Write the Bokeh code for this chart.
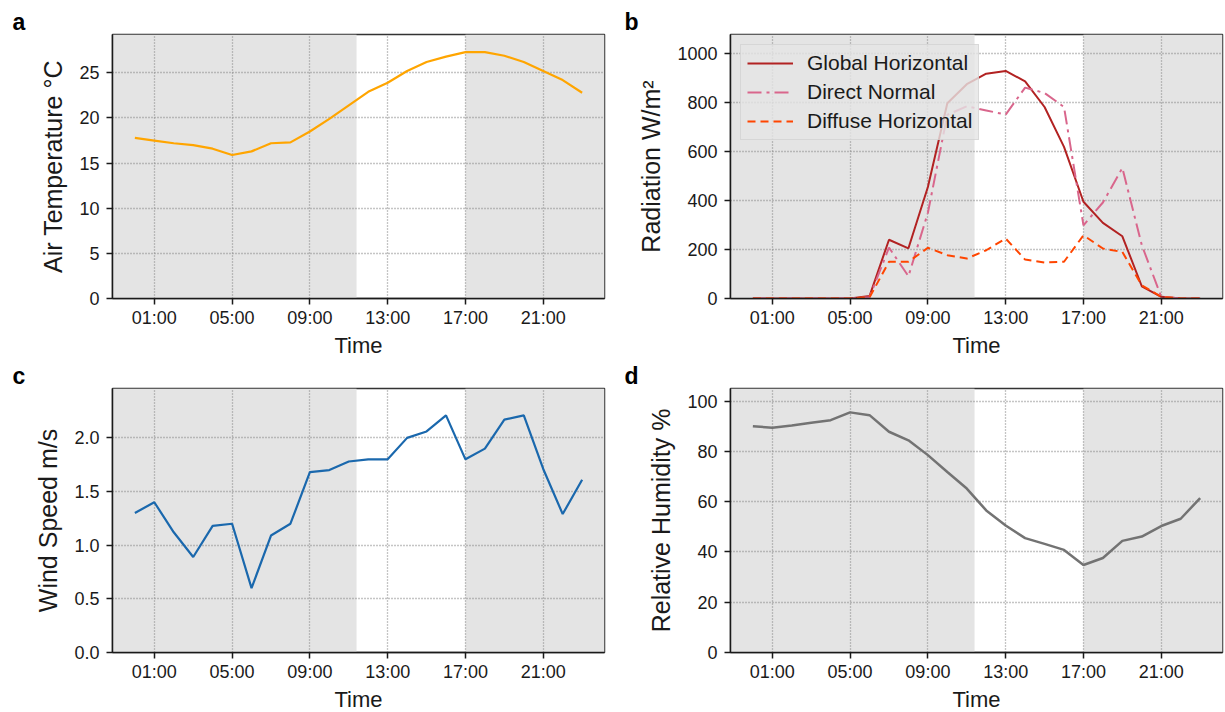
from bokeh.plotting import figure
from bokeh.layouts import column, row
from bokeh.models import Range1d, FixedTicker, BoxAnnotation, PrintfTickFormatter
from bokeh.embed import file_html
from bokeh.resources import INLINE

# ---- data: one value per hour of the day ----
hours = [0, 1, 2, 3, 4, 5, 6, 7, 8, 9, 10, 11, 12, 13, 14, 15, 16, 17, 18, 19, 20, 21, 22, 23]
tick_hours = [1, 5, 9, 13, 17, 21]
tick_labels = ["01:00", "05:00", "09:00", "13:00", "17:00", "21:00"]

air_temperature = [17.8, 17.5, 17.2, 17.0, 16.6, 15.9, 16.3, 17.2, 17.3, 18.5, 19.9, 21.4,
                   22.9, 23.9, 25.2, 26.2, 26.8, 27.3, 27.3, 26.9, 26.2, 25.2, 24.2, 22.8]
global_horizontal = [0, 0, 0, 0, 0, 0, 10, 240, 205, 455, 797, 875,
                     918, 929, 887, 782, 619, 395, 309, 254, 50, 7, 0, 0]
direct_normal = [0, 0, 0, 0, 0, 0, 5, 208, 91, 350, 750, 785,
                 768, 751, 861, 839, 782, 299, 392, 533, 218, 7, 0, 0]
diffuse_horizontal = [0, 0, 0, 0, 0, 0, 5, 150, 150, 207, 177, 163,
                      197, 245, 159, 147, 150, 258, 204, 190, 54, 7, 0, 0]
wind_speed = [1.30, 1.40, 1.12, 0.89, 1.18, 1.20, 0.60, 1.09, 1.20, 1.68, 1.70, 1.78,
              1.80, 1.80, 2.00, 2.06, 2.21, 1.80, 1.90, 2.17, 2.21, 1.71, 1.29, 1.61]
relative_humidity = [90.0, 89.4, 90.3, 91.4, 92.4, 95.5, 94.4, 87.8, 84.4, 78.5, 71.8, 65.2,
                     56.5, 50.5, 45.5, 43.2, 40.8, 34.8, 37.6, 44.4, 46.1, 50.3, 53.2, 61.4]

# shaded (outside the white midday window) hours
day_start = 11.4
day_end = 17.0

x_start, x_end = -1.15, 24.15

FONT = "Liberation Sans"
SHADE = "#e4e4e4"
INK = "#1a1a1a"


def make_panel(letter, ylabel, y_end, y_ticks, upper, left_col, y_format=None):
    border_left = 112 if left_col else 118
    border_right = 8 if left_col else 3

    p = figure(frame_width=492, frame_height=264,
               min_border_left=border_left, min_border_right=border_right,
               min_border_top=34 if upper else 0, min_border_bottom=0,
               x_range=Range1d(x_start, x_end), y_range=Range1d(0, y_end),
               output_backend="svg", toolbar_location=None)
    p.background_fill_color = "white"
    p.border_fill_color = "white"
    p.outline_line_color = "#333333"
    p.outline_line_width = 1.5

    # panel letter in the top-left corner
    p.title.text = letter
    p.title.align = "left"
    p.title.offset = -(border_left - 12)
    p.title.standoff = 0
    p.title.text_font = FONT
    p.title.text_font_style = "bold"
    p.title.text_font_size = "23px"
    p.title.text_color = "black"

    # grey night-time bands, drawn beneath the grid
    for lo, hi in [(x_start, day_start), (day_end, x_end)]:
        p.add_layout(BoxAnnotation(left=lo, right=hi, bottom=0, top=y_end,
                                   fill_color=SHADE, fill_alpha=1.0,
                                   line_color=None, level="image"))

    p.xaxis.ticker = FixedTicker(ticks=tick_hours)
    p.xaxis.major_label_overrides = {h: s for h, s in zip(tick_hours, tick_labels)}
    p.yaxis.ticker = FixedTicker(ticks=y_ticks)
    if y_format:
        p.yaxis.formatter = PrintfTickFormatter(format=y_format)
    p.xgrid.ticker = FixedTicker(ticks=tick_hours)
    p.ygrid.ticker = FixedTicker(ticks=y_ticks)
    for g in (p.xgrid, p.ygrid):
        g.grid_line_color = "#8a8a8a"
        g.grid_line_width = 1.3
        g.grid_line_dash = "1 2"

    for ax in (p.xaxis, p.yaxis):
        ax.axis_line_color = INK
        ax.axis_line_width = 1.5
        ax.major_tick_line_color = INK
        ax.major_tick_line_width = 1.5
        ax.major_tick_out = 6
        ax.major_tick_in = 0
        ax.minor_tick_line_color = None
        ax.major_label_text_font = FONT
        ax.major_label_text_font_size = "18px"
        ax.major_label_text_color = INK
        ax.axis_label_text_font = FONT
        ax.axis_label_text_font_style = "normal"
        ax.axis_label_text_color = INK
    p.xaxis.axis_label = "Time"
    p.xaxis.axis_label_text_font_size = "22px"
    p.xaxis.major_label_standoff = 3
    p.xaxis.axis_label_standoff = 2
    p.yaxis.axis_label = ylabel
    p.yaxis.axis_label_text_font_size = "25px"
    p.yaxis.major_label_standoff = 7
    p.yaxis.axis_label_standoff = 9
    return p


# a: air temperature
pa = make_panel("a", "Air Temperature °C", 29.25, [0, 5, 10, 15, 20, 25], True, True)
pa.line(hours, air_temperature, line_color="#ffa500", line_width=2.2)

# b: radiation components
pb = make_panel("b", "Radiation W/m²", 1078, [0, 200, 400, 600, 800, 1000], True, False)
pb.line(hours, global_horizontal, line_color="#b22222", line_width=2,
        legend_label="Global Horizontal")
pb.line(hours, direct_normal, line_color="#d9668c", line_width=2,
        line_dash="14 5 3 5", legend_label="Direct Normal")
pb.line(hours, diffuse_horizontal, line_color="#ff4500", line_width=2,
        line_dash="8 5", legend_label="Diffuse Horizontal")
lg = pb.legend[0]
lg.location = "top_left"
lg.margin = 10
lg.padding = 6
lg.spacing = 5
lg.glyph_width = 46
lg.glyph_height = 24
lg.label_height = 24
lg.label_standoff = 14
lg.label_text_font = FONT
lg.label_text_font_size = "21px"
lg.label_text_color = INK
lg.background_fill_color = "#e5e5e5"
lg.background_fill_alpha = 0.8
lg.border_line_color = "#c8c8c8"
lg.border_line_width = 1

# c: wind speed
pc = make_panel("c", "Wind Speed m/s", 2.46, [0.0, 0.5, 1.0, 1.5, 2.0], False, True, "%.1f")
pc.line(hours, wind_speed, line_color="#1a68ad", line_width=2.2)

# d: relative humidity
pd_ = make_panel("d", "Relative Humidity %", 105, [0, 20, 40, 60, 80, 100], False, False)
pd_.line(hours, relative_humidity, line_color="#737373", line_width=2.5)

layout = column(row(pa, pb), row(pc, pd_))

with open("out.html", "w") as f:
    f.write(file_html(layout, INLINE))
